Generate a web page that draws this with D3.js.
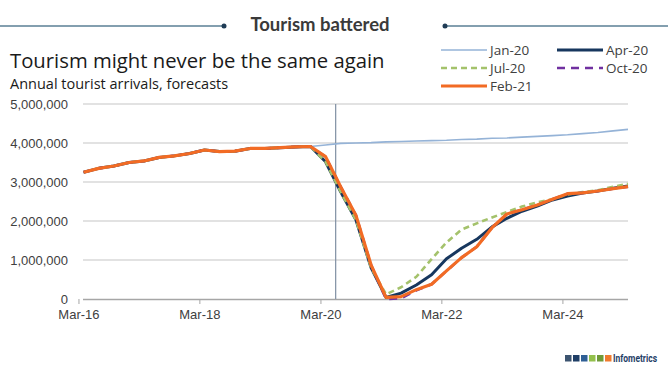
<!DOCTYPE html>
<html>
<head>
    <meta charset="utf-8">
    <style>
        body {
            margin: 0;
            background: white;
        }
        svg {
            font-family: 'Open Sans', 'Noto Sans', sans-serif;
        }
        .tick text {
            fill: #404040;
        }
    </style>
</head>
<body>
    <svg width="668" height="371"></svg>

<script src="https://d3js.org/d3.v7.min.js"></script>
<script>
    // quarterly values, millions of arrivals, Mar-16 .. Dec-19 (shared history)
    let history = [3.25, 3.35, 3.41, 3.50, 3.54, 3.63, 3.67, 3.73,
                   3.82, 3.78, 3.79, 3.86, 3.86, 3.88, 3.90, 3.91]

    // forecasts, Mar-20 .. Jun-25
    let jan20 = [3.95, 3.99, 4.00, 4.01, 4.03, 4.04, 4.05, 4.06, 4.07, 4.09, 4.10,
                 4.12, 4.13, 4.15, 4.17, 4.19, 4.21, 4.24, 4.27, 4.31, 4.35, 4.40]
    let apr20 = [3.52, 2.75, 2.03, 0.80, 0.04, 0.15, 0.36, 0.62, 1.03, 1.30, 1.53,
                 1.85, 2.07, 2.25, 2.38, 2.54, 2.64, 2.72, 2.77, 2.84, 2.90, 2.94]
    let jul20 = [3.52, 2.75, 2.03, 0.80, 0.12, 0.30, 0.57, 1.02, 1.45, 1.78, 1.94,
                 2.09, 2.23, 2.37, 2.48, 2.56, 2.68, 2.74, 2.79, 2.88, 2.95, 2.98]
    let oct20 = [3.65, 2.88, 2.15, 0.87, 0.00, 0.02, 0.22, 0.38, 0.72, 1.06, 1.34,
                 1.83, 2.18, 2.29, 2.41, 2.56, 2.70, 2.72, 2.77, 2.83, 2.88, 2.90]
    let feb21 = [3.65, 2.88, 2.15, 0.87, 0.04, 0.06, 0.24, 0.38, 0.72, 1.06, 1.34,
                 1.83, 2.18, 2.29, 2.41, 2.56, 2.70, 2.72, 2.77, 2.83, 2.88, 2.90]

    let seriesNames = ["Jan-20", "Apr-20", "Jul-20", "Oct-20", "Feb-21"]
    let seriesValues = [jan20, apr20, jul20, oct20, feb21]
    let seriesColors = ["#95b3d7", "#17375e", "#a4c26b", "#7030a0", "#f26b24"]
    let seriesWidths = [1.6, 3, 2.6, 2.6, 3.2]
    let seriesDash = [null, null, "6,4", "8,6", null]

    let yTicks = [0, 1000000, 2000000, 3000000, 4000000, 5000000]
    let xTickYears = [2016, 2018, 2020, 2022, 2024]
    let markerDate = new Date(2020, 5, 1) // Jun-20 line

    let quarters = d3.timeMonth.every(3).range(new Date(2016, 2, 1), new Date(2025, 6, 1))

    let svg = d3.select("svg")

    let x = d3.scaleTime()
        .domain([quarters[0], quarters[quarters.length - 1]])
        .range([83.6, 628])

    let y = d3.scaleLinear()
        .domain([0, 5000000])
        .range([299, 104])

    // header
    svg.append("line").attr("x1", 0).attr("x2", 224).attr("y1", 26).attr("y2", 26)
        .style("stroke", "#5a7f95").style("stroke-width", 1.3)
    svg.append("line").attr("x1", 445).attr("x2", 668).attr("y1", 26).attr("y2", 26)
        .style("stroke", "#5a7f95").style("stroke-width", 1.3)
    svg.append("circle").attr("cx", 224).attr("cy", 26).attr("r", 2.5).style("fill", "#1f3c55")
    svg.append("circle").attr("cx", 445).attr("cy", 26).attr("r", 2.5).style("fill", "#1f3c55")
    svg.append("text")
        .attr("x", 320).attr("y", 31)
        .attr("text-anchor", "middle")
        .style("font-family", "Lato, sans-serif")
        .style("font-weight", "bold")
        .style("font-size", "18.5px")
        .style("fill", "#3a3a3a")
        .text("Tourism battered")

    svg.append("text")
        .attr("x", 10).attr("y", 68)
        .style("font-size", "20.3px")
        .style("fill", "#1a1a1a")
        .text("Tourism might never be the same again")
    svg.append("text")
        .attr("x", 10).attr("y", 89)
        .style("font-size", "14.5px")
        .style("fill", "#1a1a1a")
        .text("Annual tourist arrivals, forecasts")

    // gridlines
    svg.append("g")
        .selectAll("line")
        .data(yTicks.slice(1))
        .join("line")
        .attr("x1", 83).attr("x2", 628)
        .attr("y1", d => y(d)).attr("y2", d => y(d))
        .style("stroke", "#d9d9d9")
        .style("stroke-width", 1.3)

    let yAxis = svg.append("g")
        .attr("transform", "translate(83,0)")
        .call(d3.axisLeft(y).tickValues(yTicks).tickFormat(d3.format(",")).tickSize(0).tickPadding(15))
    yAxis.select(".domain").remove()
    yAxis.selectAll("text").style("font-size", "13px")

    let xAxis = svg.append("g")
        .attr("transform", "translate(0,299)")
        .call(d3.axisBottom(x)
            .tickValues(xTickYears.map(yr => new Date(yr, 2, 1)))
            .tickFormat(d3.timeFormat("Mar-%y"))
            .tickSize(5).tickSizeOuter(0).tickPadding(6))
    xAxis.select(".domain").attr("d", "M83,0.5H628").style("stroke", "#a6a6a6").style("stroke-width", 1.3)
    xAxis.selectAll(".tick line").style("stroke", "#a6a6a6")
    xAxis.selectAll("text").style("font-size", "13px")

    // Jun-20 marker line
    svg.append("line")
        .attr("x1", x(markerDate)).attr("x2", x(markerDate))
        .attr("y1", y(5000000)).attr("y2", y(0))
        .style("stroke", "#7f8fa3")
        .style("stroke-width", 1.2)

    let line = d3.line()
        .x(d => x(d.date))
        .y(d => y(d.value * 1000000))

    seriesValues.forEach((vals, k) => {
        let all = history.concat(vals)
        let pts = all.map((v, i) => ({ date: quarters[i], value: v }))
        svg.append("path")
            .datum(pts)
            .attr("d", line)
            .style("fill", "none")
            .style("stroke", seriesColors[k])
            .style("stroke-width", seriesWidths[k])
            .style("stroke-dasharray", seriesDash[k])
            .style("stroke-linejoin", "round")
    })

    // legend
    let legendPos = [[441, 50], [557, 50], [441, 68], [557, 68], [441, 86]]
    seriesNames.forEach((name, k) => {
        let p = legendPos[k]
        svg.append("line")
            .attr("x1", p[0]).attr("x2", p[0] + 46)
            .attr("y1", p[1]).attr("y2", p[1])
            .style("stroke", seriesColors[k])
            .style("stroke-width", seriesWidths[k])
            .style("stroke-dasharray", seriesDash[k])
        svg.append("text")
            .attr("x", p[0] + 49).attr("y", p[1] + 5)
            .style("font-size", "13.5px")
            .style("fill", "#404040")
            .text(name)
    })

    // logo
    let logoColors = ["#3c5470", "#1f3e66", "#2f5f95", "#93c04c", "#6f9a38", "#f07a2e"]
    svg.append("g")
        .selectAll("rect")
        .data(logoColors)
        .join("rect")
        .attr("x", (d, i) => 565 + i * 8)
        .attr("y", 355)
        .attr("width", 6.5).attr("height", 6.5)
        .style("fill", d => d)
    svg.append("text")
        .attr("x", 613).attr("y", 362)
        .attr("textLength", 44)
        .attr("lengthAdjust", "spacingAndGlyphs")
        .style("font-family", "Roboto, sans-serif")
        .style("font-weight", "bold")
        .style("font-size", "10.5px")
        .style("fill", "#1f3e66")
        .text("Infometrics")
</script>
</body>
</html>
